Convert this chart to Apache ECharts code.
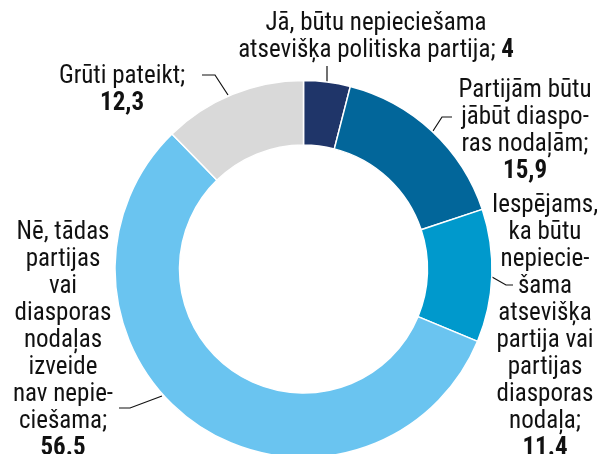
<!DOCTYPE html>
<html><head><meta charset="utf-8">
<script src="https://cdn.jsdelivr.net/npm/echarts@6/dist/echarts.min.js"></script>
<style>html,body{margin:0;padding:0;background:#fff}#c{width:600px;height:454px}</style>
</head><body><div id="c"></div>
<script>
// Data
const categories = [
  "Jā, būtu nepieciešama\natsevišķa politiska partija;",
  "Partijām būtu\njābūt diaspo-\nras nodaļām;",
  "Iespējams,\nka būtu\nnepiecie-\nšama\natsevišķa\npartija vai\npartijas\ndiasporas\nnodaļa;",
  "Nē, tādas\npartijas\nvai\ndiasporas\nnodaļas\nizveide\nnav nepie-\nciešama;",
  "Grūti pateikt;"
];
const values = [4, 15.9, 11.4, 56.5, 12.3];
const valueLabels = ["4", "15,9", "11.4", "56.5", "12,3"];
const valueInline = [true, false, false, false, false];
const colors = ["#1f3569", "#02669a", "#0099cc", "#6ac4f0", "#d9d9d9"];

// label layout (positions of label blocks & leader lines)
const labelPos = [
  {x: 376, y: 37, pts: [[327,83],[327,74],[327,66]]},
  {x: 525, y: 131, pts: [[433,131],[442,117],[452,117]]},
  {x: 545, y: 327, pts: [[492,277],[506,285],[513,285]]},
  {x: 63, y: 341, pts: [[162,396],[130,408],[119,408]]},
  {x: 122, y: 90, pts: [[228,95],[215,75],[202,75]]}
];

const FONT = "'Roboto Condensed','DejaVu Sans Condensed',sans-serif";
const chart = echarts.init(document.getElementById('c'), null, {renderer: 'canvas'});
chart.setOption({
  animation: false,
  series: [{
    type: 'pie',
    radius: [124, 188.5],
    center: [303.5, 269],
    startAngle: 90,
    clockwise: true,
    avoidLabelOverlap: false,
    itemStyle: {borderColor: '#fff', borderWidth: 1.5},
    data: values.map((v, i) => ({value: v, name: categories[i], itemStyle: {color: colors[i]}})),
    label: {
      show: true,
      position: 'outside',
      color: '#111',
      fontFamily: FONT,
      fontSize: 25,
      lineHeight: 27,
      align: 'center',
      formatter: function (p) {
        const i = p.dataIndex;
        const lines = categories[i].split('\n').map(s => '{t|' + s + '}');
        if (valueInline[i]) {
          lines[lines.length - 1] = lines[lines.length - 1] + '{b| ' + valueLabels[i] + '}';
        } else {
          lines.push('{b|' + valueLabels[i] + '}');
        }
        return lines.join('\n');
      },
      rich: {
        t: {fontFamily: FONT, fontSize: 25, lineHeight: 27, color: '#111'},
        b: {fontFamily: FONT, fontSize: 25, lineHeight: 27, fontWeight: 'bold', color: '#111'}
      }
    },
    labelLine: {show: true, lineStyle: {color: '#111', width: 1.2}},
    labelLayout: function (params) {
      const lp = labelPos[params.dataIndex];
      return {x: lp.x, y: lp.y, align: 'center', verticalAlign: 'middle', labelLinePoints: lp.pts};
    }
  }]
});
</script></body></html>
